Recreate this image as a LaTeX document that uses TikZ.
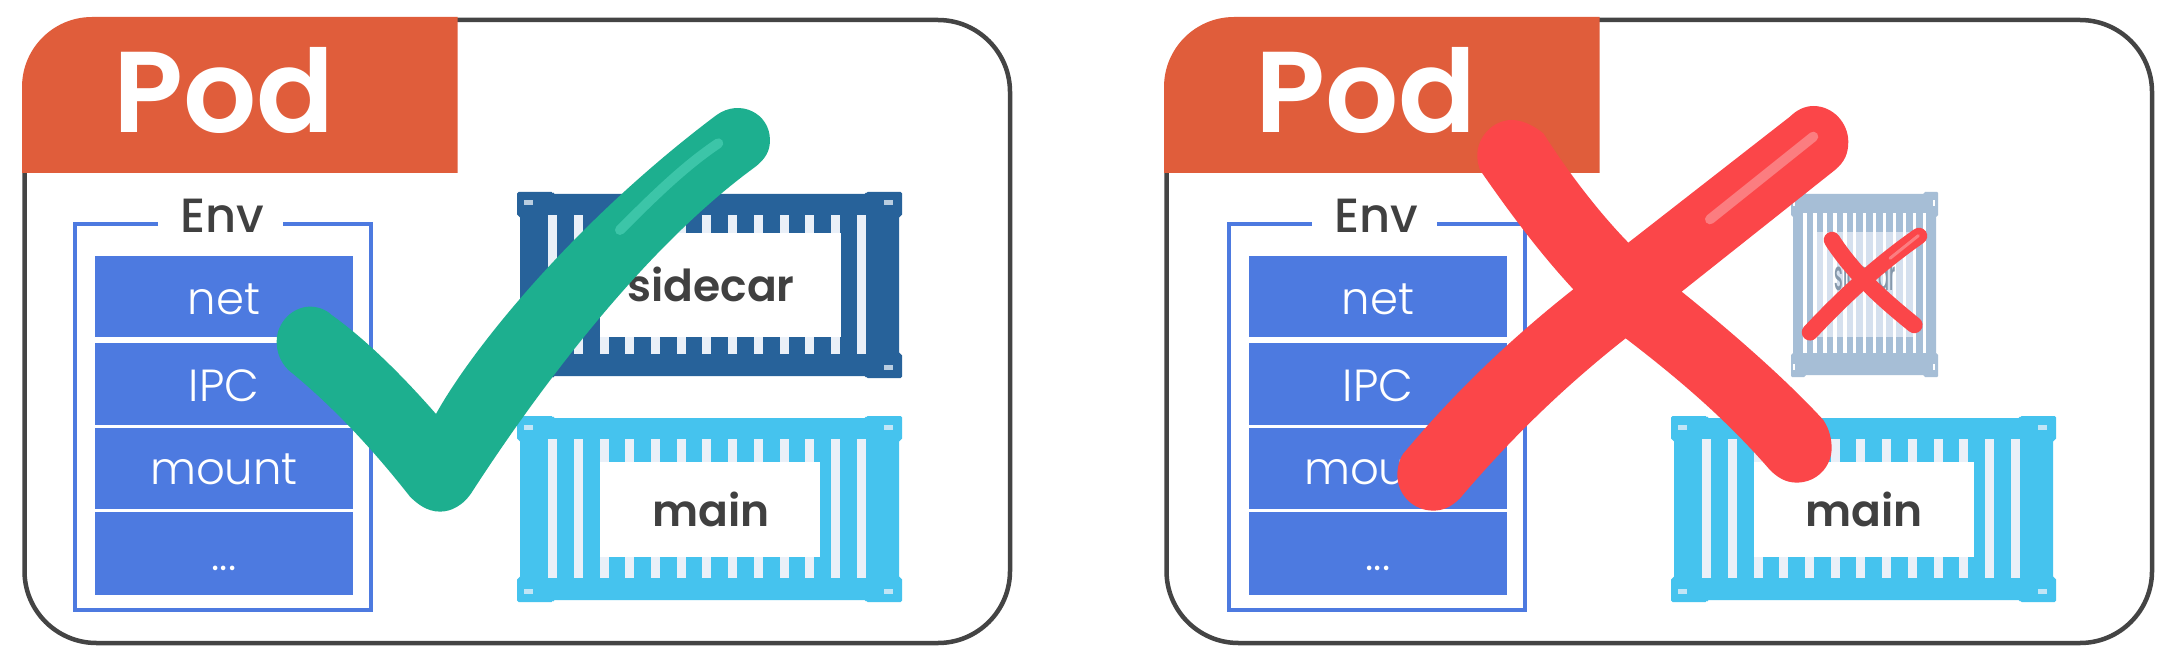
\documentclass[tikz,border=0pt]{standalone}
\usepackage{fontspec}
\setmainfont{Poppins}
\newfontfamily\podfont{Poppins Medium}
\newfontfamily\semifont{Poppins SemiBold}
\newfontfamily\lightfont{Poppins Light}
\definecolor{framec}{HTML}{444444}
\definecolor{tabc}{HTML}{E05D3B}
\definecolor{envc}{HTML}{4D7AE0}
\definecolor{darkc}{HTML}{27629A}
\definecolor{lightc}{HTML}{45C3EE}
\definecolor{barc}{HTML}{EAF0F8}
\definecolor{inkc}{HTML}{404040}
\definecolor{fadec}{HTML}{A6BED6}
\definecolor{fadep}{HTML}{D5E0EE}
\definecolor{checkc}{HTML}{1DAF8F}
\definecolor{checkh}{HTML}{3CC5A8}
\definecolor{redc}{HTML}{FB4649}
\definecolor{redh}{HTML}{FB7D80}
\tikzset{
 podtxt/.style={text=white,font=\semifont\fontsize{115}{115}\selectfont,anchor=base,inner sep=0},
 envtxt/.style={text=inkc,font=\podfont\fontsize{48}{48}\selectfont,anchor=base,inner sep=0},
 rowtxt/.style={text=white,font=\lightfont\fontsize{45}{45}\selectfont,anchor=base,inner sep=0},
 boxtxt/.style={text=inkc,font=\semifont\fontsize{44}{44}\selectfont,anchor=base,inner sep=0},
 smallcross/.style={redc,line width=16.5pt,line cap=round},
}
\newcommand{\podpanel}[2]{
 \draw[framec,line width=4.5pt,rounded corners=72pt] (24.5+#1,20) rectangle (1010+#1,643);
 \fill[tabc] (22+#1,173) -- (22+#1,87) arc[start angle=180,end angle=270,radius=70] -- (457.5+#1,17) -- (457.5+#1,173) -- cycle;
 \node[podtxt] (pod#2) at (224+#1,133) {Pod};
}
\newcommand{\envstack}[2]{
 \draw[envc,line width=4pt] (158+#1,224) -- (74.5+#1,224) -- (74.5+#1,610) -- (371+#1,610) -- (371+#1,224) -- (283+#1,224);
 \node[envtxt] (env#2) at (222+#1,233) {Env};
 \fill[envc] (94.5+#1,256) rectangle (353+#1,337);
 \fill[envc] (94.5+#1,343) rectangle (353+#1,425);
 \fill[envc] (94.5+#1,428) rectangle (353+#1,509);
 \fill[envc] (94.5+#1,512) rectangle (353+#1,595);
 \node[rowtxt] (net#2) at (224+#1,314) {net};
 \node[rowtxt] (ipc#2) at (224+#1,401) {IPC};
 \node[rowtxt] (mount#2) at (224+#1,484) {mount};
 \node[rowtxt] (dots#2) at (224+#1,570) {...};
}
\newcommand{\boxbody}[3]{
 \begin{scope}[shift={(#1,#2)}]
 \fill[#3,rounded corners=1.5pt] (0,0) -- (36,0) -- (36,2) -- (349,2) -- (349,0) -- (385,0) -- (385,24) -- (382,24) -- (382,162) -- (385,162) -- (385,186) -- (349,186) -- (349,184) -- (36,184) -- (36,186) -- (0,186) -- (0,162) -- (3,162) -- (3,24) -- (0,24) -- cycle;
 \foreach \cx/\cy in {11/11,371/11,11/175,371/175}
  \fill[barc!75!#3] (\cx-4.5,\cy-2.5) rectangle (\cx+4.5,\cy+2.5);
 \foreach \k in {0,...,12}
  \fill[barc] ({35.7+25.7*\k-4.5},23) rectangle ({35.7+25.7*\k+4.5},162);
 \end{scope}
}
\begin{document}
\begin{tikzpicture}[x=1pt,y=-1pt]
\useasboundingbox (0,0) rectangle (2178,663);
\fill[white] (0,0) rectangle (2178,663);
% ---- left panel
\podpanel{0}{L}
\envstack{0}{L}
\boxbody{517}{192}{darkc}
\fill[white] (600,233) rectangle (841,337);
\node[boxtxt] (sidecarL) at (711,301) {sidecar};
\boxbody{517}{416}{lightc}
\fill[white] (600,462) rectangle (820,557);
\node[boxtxt] (mainL) at (711,526) {main};
% check mark
\begin{scope}[shift={(260,90)},x=0.3333pt,y=-0.3333pt]
\fill[checkc] (528,972) .. controls (640,770) and (950,390) .. (1370,75)
 .. controls (1440,25) and (1530,70) .. (1530,150)
 .. controls (1530,180) and (1520,206) .. (1480,235)
 .. controls (1200,440) and (900,800) .. (640,1200)
 .. controls (610,1250) and (570,1265) .. (540,1265)
 .. controls (500,1265) and (470,1240) .. (450,1220)
 .. controls (340,1080) and (220,950) .. (85,840)
 .. controls (60,815) and (50,785) .. (50,755)
 .. controls (50,695) and (100,650) .. (150,650)
 .. controls (175,650) and (200,660) .. (215,675)
 .. controls (320,750) and (430,860) .. (528,972) -- cycle;
\draw[checkh,line width=10pt,line cap=round] (1080,420) .. controls (1170,330) and (1270,230) .. (1375,160);
\end{scope}
% ---- right panel
\podpanel{1142}{R}
\envstack{1154}{R}
% faded sidecar
\begin{scope}[shift={(1791,192)}]
 \fill[fadec,rounded corners=1pt] (0,0) -- (14,0) -- (14,2) -- (133,2) -- (133,0) -- (147,0) -- (147,24) -- (145,24) -- (145,162) -- (147,162) -- (147,185) -- (133,185) -- (133,183) -- (14,183) -- (14,185) -- (0,185) -- (0,162) -- (2,162) -- (2,24) -- (0,24) -- cycle;
 \fill[fadep] (26,40) rectangle (124,145);
 \foreach \cx/\cy in {3/11,143/11,3/175,143/175}
  \fill[white] (\cx-1,\cy-3) rectangle (\cx+1,\cy+3);
 \foreach \k in {0,...,12}
  \fill[white] ({14+9.95*\k-1.7},21) rectangle ({14+9.95*\k+1.7},161);
 \node[text=fadec!80!black,font=\podfont\fontsize{42}{42}\selectfont,anchor=base,inner sep=0] (sidecarR) at (74,98) {\scalebox{.385}[1]{sidecar}};
\end{scope}
\boxbody{1671}{416}{lightc}
\fill[white] (1754,462) rectangle (1974,557);
\node[boxtxt] (mainR) at (1864,526) {main};
% small X
\begin{scope}[shift={(1760,170)},x=0.3333pt,y=-0.3333pt]
\draw[smallcross] (150,487) .. controls (260,370) and (360,280) .. (477,198);
\draw[smallcross] (216,210) .. controls (280,310) and (370,390) .. (463,465);
\draw[redh,line width=3pt,line cap=round] (390,265) -- (475,197);
\end{scope}
% big X
\begin{scope}[shift={(1380,90)},x=0.3333pt,y=-0.3333pt]
\fill[redc] (745,458) -- (1230,80)
 .. controls (1250,60) and (1275,48) .. (1300,48)
 .. controls (1360,48) and (1405,100) .. (1405,155)
 .. controls (1405,190) and (1395,215) .. (1365,240)
 -- (905,605)
 .. controls (1060,730) and (1220,870) .. (1330,990)
 .. controls (1350,1020) and (1355,1050) .. (1355,1075)
 .. controls (1355,1130) and (1310,1178) .. (1250,1178)
 .. controls (1215,1178) and (1190,1160) .. (1170,1140)
 .. controls (1040,990) and (900,870) .. (737,745)
 .. controls (540,900) and (380,1060) .. (240,1225)
 .. controls (215,1250) and (190,1262) .. (160,1262)
 .. controls (100,1262) and (52,1215) .. (52,1155)
 .. controls (52,1130) and (60,1100) .. (75,1085)
 .. controls (230,900) and (400,740) .. (580,598)
 .. controls (480,490) and (390,370) .. (300,240)
 .. controls (295,225) and (292,215) .. (292,195)
 .. controls (292,140) and (340,90) .. (395,90)
 .. controls (430,90) and (465,110) .. (490,130)
 .. controls (560,240) and (650,360) .. (745,458) -- cycle;
\draw[redh,line width=10pt,line cap=round] (990,388) -- (1300,140);
\end{scope}
\end{tikzpicture}
\end{document}
